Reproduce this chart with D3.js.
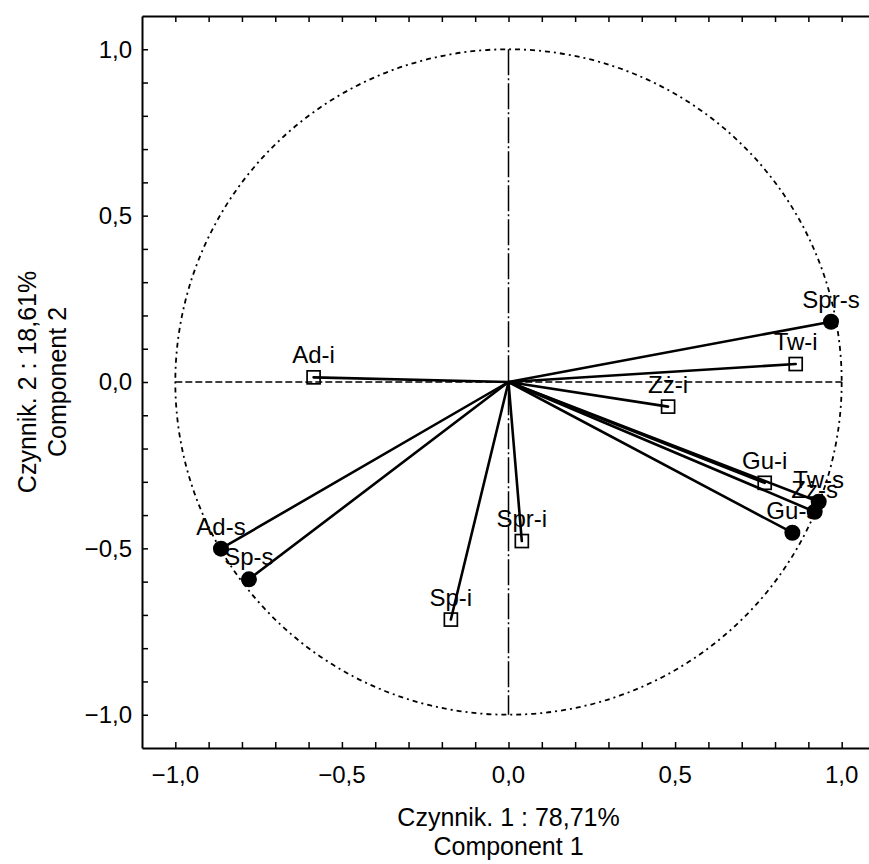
<!DOCTYPE html>
<html>
<head>
<meta charset="utf-8">
<script src="https://cdn.jsdelivr.net/npm/d3@7/dist/d3.min.js"></script>
<style>
  html, body { margin: 0; padding: 0; background: #fff; }
  svg { display: block; font-family: "Liberation Sans", Arial, sans-serif; }
</style>
</head>
<body>
<svg id="chart" width="869" height="864"></svg>
<script>
// ---- data ----
const variables = ["Ad-i", "Ad-s", "Sp-i", "Sp-s", "Spr-i", "Spr-s", "Tw-i", "Tw-s", "Zż-i", "Zż-s", "Gu-i", "Gu-s"];
const component1 = [-0.585, -0.863, -0.173, -0.779, 0.040, 0.968, 0.862, 0.931, 0.479, 0.919, 0.769, 0.852];
const component2 = [0.014, -0.501, -0.714, -0.593, -0.478, 0.181, 0.054, -0.360, -0.074, -0.390, -0.303, -0.453];
const markerKind = ["square", "circle", "square", "circle", "square", "circle", "square", "circle", "square", "circle", "square", "circle"];
const tickValues = [-1.0, -0.5, 0.0, 0.5, 1.0];
const minorTicks = d3.range(-10, 11).map(d => d / 10);
const xTitle = ["Czynnik. 1 : 78,71%", "Component 1"];
const yTitle = ["Czynnik. 2 : 18,61%", "Component 2"];

(function () {
const fmt = v => d3.format(".1f")(v).replace(".", ",").replace("-", "\u2013");

const svg = d3.select("#chart");
const pLeft = 142, pTop = 16, pBottom = 748, pRight = 875;
const x = d3.scaleLinear().domain([-1.1, 1.1]).range([pLeft, pRight]);
const y = d3.scaleLinear().domain([-1.1, 1.1]).range([pBottom, pTop]);

const data = variables.map((v, i) => ({ name: v, c1: component1[i], c2: component2[i], kind: markerKind[i] }));

// unit circle
svg.append("ellipse")
  .attr("cx", x(0)).attr("cy", y(0))
  .attr("rx", x(1) - x(0)).attr("ry", y(0) - y(1))
  .attr("fill", "none").attr("stroke", "#000").attr("stroke-width", 1.8)
  .attr("stroke-dasharray", "5,4,2,4");

// reference lines
svg.append("line")
  .attr("x1", x(-1)).attr("x2", x(1)).attr("y1", y(0)).attr("y2", y(0))
  .attr("stroke", "#000").attr("stroke-width", 1.5).attr("stroke-dasharray", "7,3");
svg.append("line")
  .attr("x1", x(0)).attr("x2", x(0)).attr("y1", y(1)).attr("y2", y(-1))
  .attr("stroke", "#000").attr("stroke-width", 1.5).attr("stroke-dasharray", "26,3,2,3");

// axes (inward ticks)
const xAxisB = d3.axisTop(x).tickValues(minorTicks).tickSize(6).tickFormat("").tickSizeOuter(0);
const xAxisT = d3.axisBottom(x).tickValues(minorTicks).tickSize(6).tickFormat("").tickSizeOuter(0);
const yAxisL = d3.axisRight(y).tickValues(minorTicks).tickSize(6).tickFormat("").tickSizeOuter(0);

const gB = svg.append("g").attr("transform", `translate(0,${pBottom})`).call(xAxisB);
const gT = svg.append("g").attr("transform", `translate(0,${pTop})`).call(xAxisT);
const gL = svg.append("g").attr("transform", `translate(${pLeft},0)`).call(yAxisL);
[gB, gT, gL].forEach(g => {
  g.selectAll(".domain").attr("stroke", "#000").attr("stroke-width", 2);
  g.selectAll(".tick line").attr("stroke", "#000").attr("stroke-width", 1.5);
});

// tick labels
svg.append("g").selectAll("text").data(tickValues).join("text")
  .attr("x", d => x(d)).attr("y", pBottom + 35)
  .attr("text-anchor", "middle").attr("font-size", 24).attr("fill", "#000")
  .text(fmt);
svg.append("g").selectAll("text").data(tickValues).join("text")
  .attr("x", pLeft - 10).attr("y", d => y(d)).attr("dy", "0.35em")
  .attr("text-anchor", "end").attr("font-size", 24).attr("fill", "#000")
  .text(fmt);

// axis titles
svg.append("g").selectAll("text").data(xTitle).join("text")
  .attr("x", x(0)).attr("y", (d, i) => 826 + i * 29)
  .attr("text-anchor", "middle").attr("font-size", 25).attr("fill", "#000")
  .text(d => d);
svg.append("g").selectAll("text").data(yTitle).join("text")
  .attr("transform", (d, i) => `translate(${36 + i * 30},${y(0)}) rotate(-90)`)
  .attr("text-anchor", "middle").attr("font-size", 25).attr("fill", "#000")
  .text(d => d);

// vectors
svg.append("g").selectAll("line").data(data).join("line")
  .attr("x1", x(0)).attr("y1", y(0))
  .attr("x2", d => x(d.c1)).attr("y2", d => y(d.c2))
  .attr("stroke", "#000").attr("stroke-width", 2.6).attr("stroke-linecap", "round");

// labels
svg.append("g").selectAll("text").data(data).join("text")
  .attr("x", d => x(d.c1)).attr("y", d => y(d.c2) - 14)
  .attr("text-anchor", "middle").attr("font-size", 24).attr("fill", "#000")
  .text(d => d.name);

// markers
const gm = svg.append("g");
gm.selectAll("circle").data(data.filter(d => d.kind === "circle")).join("circle")
  .attr("cx", d => x(d.c1)).attr("cy", d => y(d.c2)).attr("r", 8)
  .attr("fill", "#000");
gm.selectAll("rect").data(data.filter(d => d.kind === "square")).join("rect")
  .attr("x", d => x(d.c1) - 6.5).attr("y", d => y(d.c2) - 6.5)
  .attr("width", 13).attr("height", 13)
  .attr("fill", "none").attr("stroke", "#000").attr("stroke-width", 1.7);
})();
</script>
</body>
</html>
